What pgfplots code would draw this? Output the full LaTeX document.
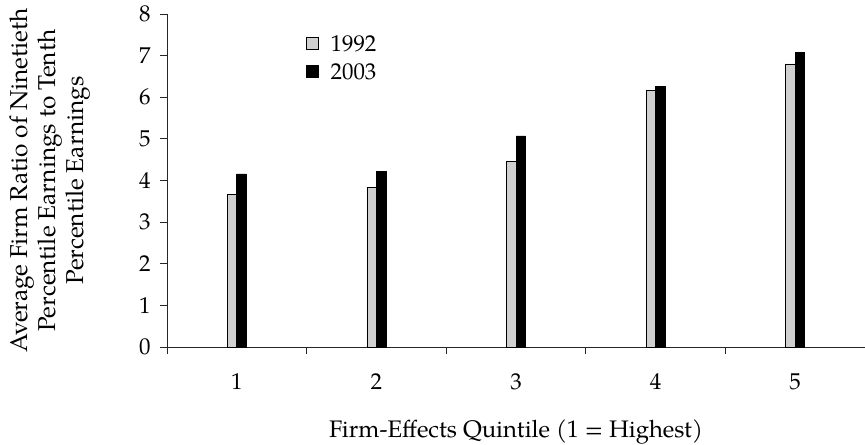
\documentclass[border=0pt]{standalone}
\usepackage{pgfplots}
\pgfplotsset{compat=1.18}
\usepackage{fontspec}
\setmainfont{TeX Gyre Pagella}
\definecolor{lgray}{RGB}{208,208,208}
\begin{document}
\begin{tikzpicture}
\useasboundingbox (-167bp,-98bp) rectangle (698bp,347bp);
\begin{axis}[
  at={(0,0)}, anchor=south west,
  scale only axis, width=698bp, height=333bp,
  xmin=0.5, xmax=5.5, ymin=0, ymax=8,
  axis x line=bottom, axis y line=left,
  axis line style={-, line width=0.8bp, black!85},
  ytick={0,1,...,8},
  xtick={0.5,1.5,...,5.5},
  xticklabels={1,2,3,4,5},
  x tick label as interval,
  tick align=outside,
  major tick length=7bp,
  tick style={line width=0.8bp, black!85},
  /pgf/number format/assume math mode=true,
  ticklabel style={font=\fontsize{23}{27}\selectfont},
  xticklabel style={yshift=-16bp},
  yticklabel style={xshift=-6bp},
  xlabel={Firm-Effects Quintile (1 = Highest)},
  xlabel style={at={(axis description cs:0.5,0)}, anchor=center, yshift=-85bp, font=\fontsize{24}{27}\selectfont},
  ylabel={Average Firm Ratio of Ninetieth\\Percentile Earnings to Tenth\\Percentile Earnings},
  ylabel style={at={(axis description cs:0,0.5)}, anchor=center, yshift=117bp, align=center, font=\fontsize{24.5}{28}\selectfont},
  ybar=0pt, bar width=9.5bp,
  legend style={at={(axis description cs:0.195,0.96)}, anchor=north west, draw=none, fill=none,
    font=\fontsize{23}{28}\selectfont, row sep=0bp,
    nodes={text height=16bp, text depth=0bp, inner ysep=6bp},
    legend cell align=left},
  legend image code/.code={\draw[#1, line width=0.6bp] (0bp,-6bp) rectangle (12bp,6bp); \path[draw=none,fill=none] (0bp,0bp) -- (22bp,0bp);},
]
\addplot[fill=lgray, draw=black, line width=0.6bp] coordinates {(1,3.66) (2,3.84) (3,4.45) (4,6.16) (5,6.80)};
\addplot[fill=black, draw=black, line width=0.6bp] coordinates {(1,4.16) (2,4.22) (3,5.07) (4,6.27) (5,7.07)};
\legend{1992,2003}
\end{axis}
\end{tikzpicture}
\end{document}
